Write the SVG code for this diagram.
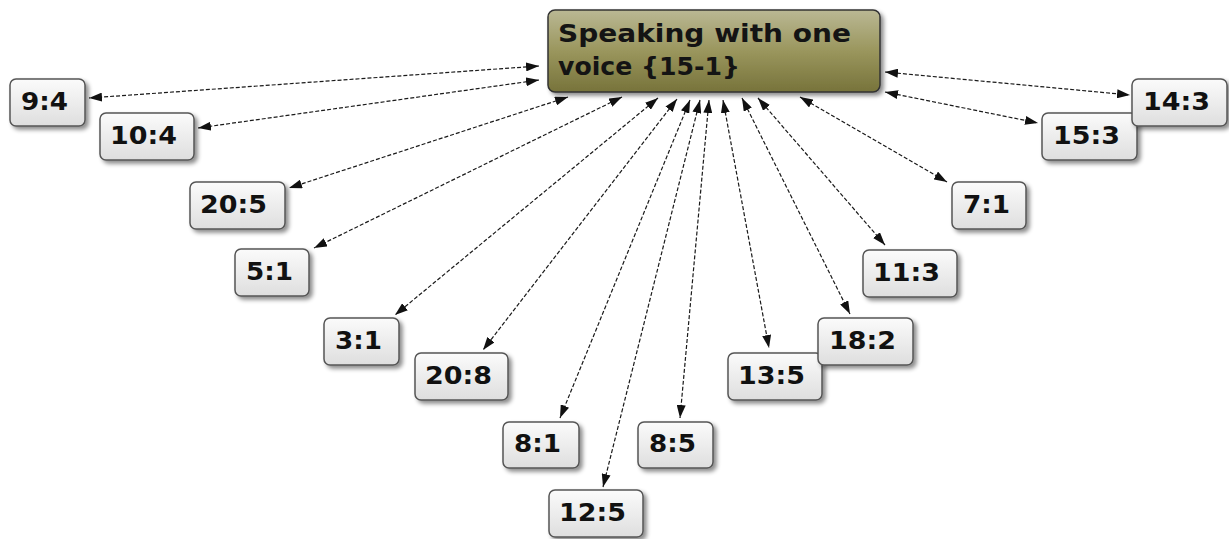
<svg xmlns="http://www.w3.org/2000/svg" width="1229" height="539" viewBox="0 0 1229 539">
<style>
.bg{fill:#ffffff}
.box{fill:url(#gBox);stroke:#555;stroke-width:1.5;filter:url(#sh)}
.main{fill:url(#gMain);stroke:#333;stroke-width:1.5;filter:url(#sh)}
.lbl{font-family:"DejaVu Sans",Verdana,sans-serif;font-weight:bold;font-size:25px;fill:#111}
.mt{font-family:"DejaVu Sans",Verdana,sans-serif;font-weight:bold;font-size:25px;fill:#141414}
.ln{fill:none;stroke:#1a1a1a;stroke-width:1.2;stroke-dasharray:4 2;marker-start:url(#ah);marker-end:url(#ah)}
</style>
<defs>
<linearGradient id="gBox" x1="0" y1="0" x2="0" y2="1">
<stop offset="0" stop-color="#fbfbfb"/><stop offset="1" stop-color="#dedede"/>
</linearGradient>
<linearGradient id="gMain" x1="0" y1="0" x2="0" y2="1">
<stop offset="0" stop-color="#bab894"/><stop offset="0.5" stop-color="#9a965d"/><stop offset="1" stop-color="#77733b"/>
</linearGradient>
<filter id="sh" x="-20%" y="-20%" width="150%" height="160%">
<feDropShadow dx="3" dy="3" stdDeviation="2" flood-color="#000" flood-opacity="0.45"/>
</filter>
<marker id="ah" viewBox="0 0 13 9" refX="13" refY="4.5" markerWidth="13" markerHeight="9" markerUnits="userSpaceOnUse" orient="auto-start-reverse">
<path d="M0,0 L13,4.5 L0,9 Z" fill="#111"/>
</marker>
</defs>
<rect class="bg" x="0" y="0" width="1229" height="539"/>
<g id="connectors">
<line class="ln" x1="539" y1="66" x2="89" y2="98"/>
<line class="ln" x1="539" y1="80" x2="198" y2="128"/>
<line class="ln" x1="568" y1="97" x2="289" y2="188"/>
<line class="ln" x1="622" y1="97" x2="314" y2="248"/>
<line class="ln" x1="658" y1="98" x2="395" y2="315"/>
<line class="ln" x1="677" y1="99" x2="483" y2="350"/>
<line class="ln" x1="690" y1="100" x2="560" y2="418"/>
<line class="ln" x1="700" y1="100" x2="603" y2="487"/>
<line class="ln" x1="709" y1="100" x2="680" y2="418"/>
<line class="ln" x1="723" y1="100" x2="769" y2="348"/>
<line class="ln" x1="742" y1="98" x2="850" y2="314"/>
<line class="ln" x1="758" y1="98" x2="885" y2="245"/>
<line class="ln" x1="800" y1="97" x2="947" y2="182"/>
<line class="ln" x1="885" y1="72" x2="1130" y2="95"/>
<line class="ln" x1="885" y1="92" x2="1038" y2="123"/>
</g>
<g id="n-main"><rect class="main" x="548" y="10" width="332" height="82" rx="7"/>
<text class="mt" x="558" y="42" textLength="293" lengthAdjust="spacingAndGlyphs">Speaking with one</text>
<text class="mt" x="558" y="75" textLength="182" lengthAdjust="spacingAndGlyphs">voice {15-1}</text></g>
<g id="n-9-4"><rect class="box" x="10" y="79" width="75" height="47" rx="6"/><text class="lbl" x="21" y="110" textLength="47" lengthAdjust="spacingAndGlyphs">9:4</text></g>
<g id="n-10-4"><rect class="box" x="100" y="113" width="94" height="47" rx="6"/><text class="lbl" x="110" y="144" textLength="67" lengthAdjust="spacingAndGlyphs">10:4</text></g>
<g id="n-20-5"><rect class="box" x="190" y="182" width="95" height="47" rx="6"/><text class="lbl" x="200" y="213" textLength="67" lengthAdjust="spacingAndGlyphs">20:5</text></g>
<g id="n-5-1"><rect class="box" x="235" y="249" width="74" height="47" rx="6"/><text class="lbl" x="246" y="280" textLength="47" lengthAdjust="spacingAndGlyphs">5:1</text></g>
<g id="n-3-1"><rect class="box" x="324" y="318" width="75" height="47" rx="6"/><text class="lbl" x="335" y="349" textLength="47" lengthAdjust="spacingAndGlyphs">3:1</text></g>
<g id="n-20-8"><rect class="box" x="415" y="353" width="93" height="47" rx="6"/><text class="lbl" x="425" y="384" textLength="67" lengthAdjust="spacingAndGlyphs">20:8</text></g>
<g id="n-8-1"><rect class="box" x="503" y="422" width="76" height="46" rx="6"/><text class="lbl" x="514" y="452" textLength="47" lengthAdjust="spacingAndGlyphs">8:1</text></g>
<g id="n-12-5"><rect class="box" x="549" y="490" width="94" height="47" rx="6"/><text class="lbl" x="559" y="521" textLength="67" lengthAdjust="spacingAndGlyphs">12:5</text></g>
<g id="n-8-5"><rect class="box" x="638" y="422" width="75" height="46" rx="6"/><text class="lbl" x="649" y="452" textLength="47" lengthAdjust="spacingAndGlyphs">8:5</text></g>
<g id="n-13-5"><rect class="box" x="728" y="353" width="94" height="47" rx="6"/><text class="lbl" x="738" y="384" textLength="67" lengthAdjust="spacingAndGlyphs">13:5</text></g>
<g id="n-18-2"><rect class="box" x="818" y="318" width="95" height="47" rx="6"/><text class="lbl" x="829" y="349" textLength="67" lengthAdjust="spacingAndGlyphs">18:2</text></g>
<g id="n-11-3"><rect class="box" x="863" y="250" width="94" height="47" rx="6"/><text class="lbl" x="873" y="281" textLength="67" lengthAdjust="spacingAndGlyphs">11:3</text></g>
<g id="n-7-1"><rect class="box" x="952" y="182" width="74" height="47" rx="6"/><text class="lbl" x="963" y="213" textLength="47" lengthAdjust="spacingAndGlyphs">7:1</text></g>
<g id="n-15-3"><rect class="box" x="1042" y="113" width="95" height="47" rx="6"/><text class="lbl" x="1053" y="144" textLength="67" lengthAdjust="spacingAndGlyphs">15:3</text></g>
<g id="n-14-3"><rect class="box" x="1132" y="79" width="95" height="47" rx="6"/><text class="lbl" x="1143" y="110" textLength="67" lengthAdjust="spacingAndGlyphs">14:3</text></g>
</svg>
